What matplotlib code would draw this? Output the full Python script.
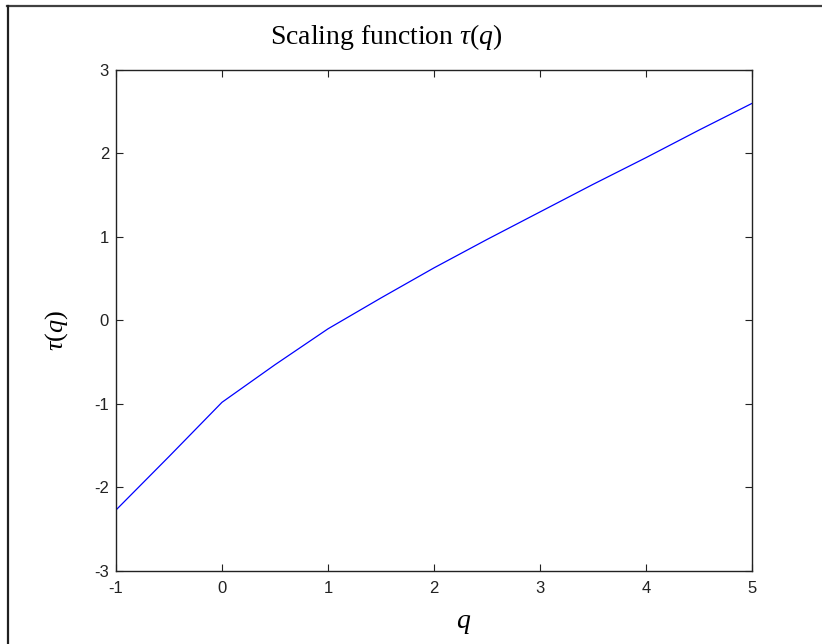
import numpy as np
import matplotlib
matplotlib.use("Agg")
import matplotlib.pyplot as plt
from matplotlib.lines import Line2D

# scaling function values
q = [-1.0, -0.5, 0.0, 0.5, 1.0, 1.5, 2.0, 2.5, 3.0, 3.5, 4.0, 4.5, 5.0]
tau = [-2.27, -1.63, -0.98, -0.53, -0.10, 0.27, 0.63, 0.97, 1.30, 1.63, 1.95, 2.28, 2.60]

xticks = [-1, 0, 1, 2, 3, 4, 5]
yticks = [-3, -2, -1, 0, 1, 2, 3]

plt.rcParams['mathtext.fontset'] = 'custom'
plt.rcParams['mathtext.rm'] = 'Liberation Serif'
plt.rcParams['mathtext.it'] = 'Liberation Serif:italic'
plt.rcParams['axes.unicode_minus'] = False

fig = plt.figure(figsize=(8.22, 6.44), dpi=100)
ax = fig.add_axes([0.1411, 0.1134, 0.7737, 0.7779])

ax.plot(q, tau, color=(0, 0, 1), linewidth=0.9)

ax.set_xlim(-1, 5)
ax.set_ylim(-3, 3)
ax.set_xticks(xticks)
ax.set_yticks(yticks)
ax.tick_params(direction='in', top=True, right=True, length=5, width=0.8,
               labelsize=12, colors='#222222')
ax.tick_params(axis='x', pad=7)
ax.tick_params(axis='y', pad=5)
for lab in ax.get_xticklabels() + ax.get_yticklabels():
    lab.set_family('Liberation Sans')
for s in ax.spines.values():
    s.set_linewidth(1.0)
    s.set_color('#222222')

ax.text(0.425, 1.066, r'Scaling function $\tau(q)$', transform=ax.transAxes,
        ha='center', va='center', fontsize=20, family='Liberation Serif')
ax.text(0.546, -0.102, r'$q$', transform=ax.transAxes,
        ha='center', va='center', fontsize=20)
ax.text(-0.093, 0.481, r'$\tau(q)$', transform=ax.transAxes, rotation=90,
        ha='center', va='center', fontsize=19)

# figure frame (only top and left edges visible)
fig.add_artist(Line2D([0.0085, 1.0], [0.991, 0.991], transform=fig.transFigure,
                      color='#404040', linewidth=1.6))
fig.add_artist(Line2D([0.0097, 0.0097], [0.0, 0.991], transform=fig.transFigure,
                      color='#202020', linewidth=1.6))

fig.savefig('out.png', dpi=100)
